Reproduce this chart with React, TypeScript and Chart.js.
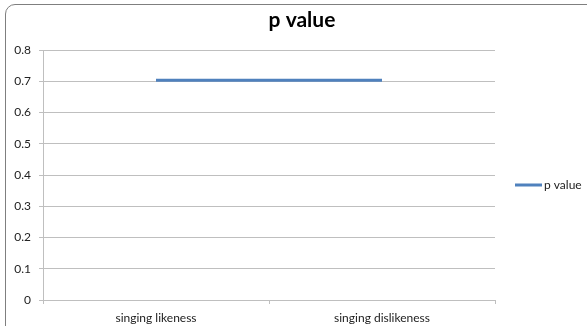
import React, { useEffect, useRef } from "react";
import { Chart, registerables } from "chart.js";

Chart.register(...registerables);

const categories = ["singing likeness", "singing dislikeness"];
const seriesName = "p value";
const chartTitle = "p value";
const pValues = [0.703, 0.703];
const yTicks = [0, 0.1, 0.2, 0.3, 0.4, 0.5, 0.6, 0.7, 0.8];

const FONT = "Lato, 'Open Sans', sans-serif";
const LINE_COLOR = "#4f81bd";
const GRID_COLOR = "#bfbfbf";

const titlePlugin = {
  id: "frameTitle",
  afterDraw(chart: any) {
    const { ctx } = chart;
    ctx.save();
    ctx.fillStyle = "#000";
    ctx.font = `bold 21px ${FONT}`;
    ctx.textAlign = "center";
    ctx.textBaseline = "middle";
    ctx.fillText(chartTitle, 302, 20);
    ctx.restore();
  },
};

const legendPlugin = {
  id: "rightLegend",
  afterDraw(chart: any) {
    const { ctx, chartArea } = chart;
    const ds = chart.data.datasets[0];
    const y = 185;
    const x0 = chartArea.right + 20;
    ctx.save();
    ctx.strokeStyle = ds.borderColor;
    ctx.lineWidth = 3;
    ctx.beginPath();
    ctx.moveTo(x0, y);
    ctx.lineTo(x0 + 27, y);
    ctx.stroke();
    ctx.fillStyle = "#222";
    ctx.font = `12px ${FONT}`;
    ctx.textBaseline = "middle";
    ctx.textAlign = "left";
    ctx.fillText(ds.label, x0 + 29, y);
    ctx.restore();
  },
};

export default function App() {
  const ref = useRef<HTMLCanvasElement | null>(null);
  useEffect(() => {
    if (!ref.current) return;
    const chart = new Chart(ref.current, {
      type: "line",
      data: {
        labels: categories,
        datasets: [
          {
            label: seriesName,
            data: pValues,
            borderColor: LINE_COLOR,
            backgroundColor: LINE_COLOR,
            borderWidth: 3,
            pointRadius: 0,
            tension: 0,
          },
        ],
      },
      options: {
        animation: false,
        responsive: false,
        maintainAspectRatio: false,
        layout: { padding: { left: 0, right: 92, top: 50, bottom: 0 } },
        plugins: {
          legend: { display: false },
          tooltip: { enabled: false },
          title: { display: false },
        },
        scales: {
          x: {
            type: "category",
            offset: true,
            grid: {
              offset: true,
              drawOnChartArea: false,
              drawTicks: true,
              tickLength: 4,
              color: GRID_COLOR,
            },
            border: { color: GRID_COLOR },
            ticks: {
              color: "#222",
              font: { family: FONT, size: 12 },
              padding: 7,
              maxRotation: 0,
            },
            afterFit(scale: any) {
              scale.height = 26;
            },
          },
          y: {
            min: 0,
            max: 0.8,
            afterBuildTicks(scale: any) {
              scale.ticks = yTicks.map((v) => ({ value: v }));
            },
            grid: {
              color: GRID_COLOR,
              drawTicks: true,
              tickLength: 4,
            },
            border: { color: GRID_COLOR },
            ticks: {
              color: "#222",
              font: { family: FONT, size: 12 },
              padding: 8,
              callback: (v: any) => String(Math.round(Number(v) * 10) / 10),
            },
            afterFit(scale: any) {
              scale.width = 43;
            },
          },
        },
      },
      plugins: [titlePlugin, legendPlugin],
    });
    return () => chart.destroy();
  }, []);

  return (
    <div
      style={{
        position: "fixed",
        left: 0,
        top: 0,
        width: 587,
        height: 326,
        overflow: "hidden",
        background: "#fff",
      }}
    >
      <div
        style={{
          position: "absolute",
          left: 5,
          top: 4,
          width: 620,
          height: 360,
          border: "1.5px solid #7f7f7f",
          borderRadius: 10,
          boxSizing: "border-box",
        }}
      />
      <canvas
        ref={ref}
        width={587}
        height={326}
        style={{ position: "absolute", left: 0, top: 0, width: 587, height: 326 }}
      />
    </div>
  );
}
